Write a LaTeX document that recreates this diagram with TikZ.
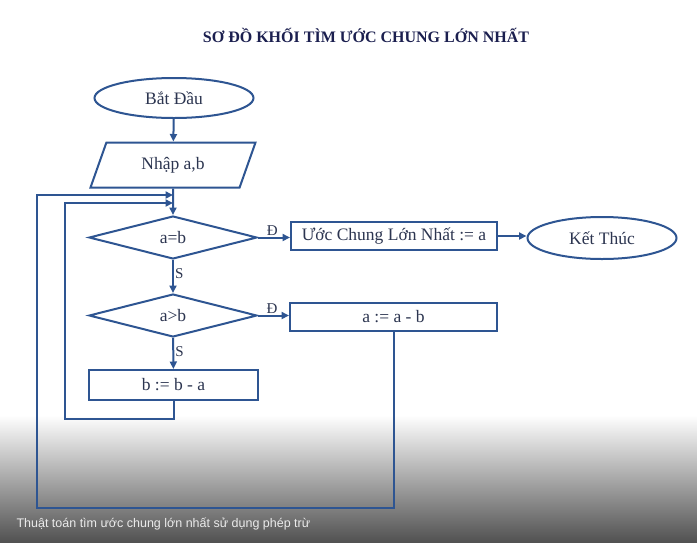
\documentclass[tikz,border=0pt]{standalone}
\usepackage{fontspec}
\setmainfont{Liberation Serif}
\newfontfamily\captionfont{Liberation Sans}
\usepackage{tikz}
\usetikzlibrary{arrows.meta,shapes,positioning,calc}
\definecolor{lineblue}{HTML}{2E5592}
\definecolor{textnavy}{HTML}{2C3550}
\definecolor{titlenavy}{HTML}{1B1F4F}

\begin{document}
\begin{tikzpicture}[
    x=1pt, y=-1pt,
    every node/.style={
        text=textnavy,
        font=\fontsize{17.5}{20}\selectfont
    },
    terminal/.style={
        ellipse,
        draw=lineblue,
        line width=2pt,
        minimum width=159pt,
        minimum height=40pt,
        inner sep=0pt
    },
    inout/.style={
        trapezium,
        trapezium left angle=45,
        trapezium right angle=135,
        trapezium stretches body=true,
        draw=lineblue,
        line width=2pt,
        minimum width=165pt,
        minimum height=45pt,
        inner sep=0pt
    },
    decide/.style={
        diamond,
        draw=lineblue,
        line width=2pt,
        minimum width=168pt,
        minimum height=43pt,
        inner sep=0pt
    },
    proc/.style={
        rectangle,
        draw=lineblue,
        line width=2pt,
        minimum height=28pt,
        inner sep=0pt
    },
    flow/.style={
        draw=lineblue,
        line width=2pt,
        -{Triangle[length=7.5pt,width=7pt]}
    },
    tag/.style={
        font=\fontsize{15}{17}\selectfont,
        inner sep=1pt
    }
]
% --- nền và khung ---
\fill[white] (0,0) rectangle (697,542);
\shade[top color=white, bottom color=black!68] (0,415) rectangle (697,542);
\useasboundingbox (0,0) rectangle (697,542);

% --- tiêu đề ---
\node[text=titlenavy, font=\fontsize{16}{19}\selectfont\bfseries] (title) at (366,35) {SƠ ĐỒ KHỐI TÌM ƯỚC CHUNG LỚN NHẤT};

% --- các khối ---
\node[terminal] (start) at (174,98) {Bắt Đầu};
\node[inout] (input) at (173,165) {Nhập a,b};
\node[decide] (eq) at (173,237.5) {a=b};
\node[proc, minimum width=206pt] (gcd) at (394,236) {Ước Chung Lớn Nhất := a};
\node[terminal, minimum width=149pt, minimum height=42pt] (stop) at (602,238) {Kết Thúc};
\node[decide] (gt) at (173,315.5) {a>b};
\node[proc, minimum width=207pt] (suba) at (393.5,317) {a := a - b};
\node[proc, minimum width=169pt, minimum height=30pt] (subb) at (173.5,385) {b := b - a};

% điểm nối vòng lặp
\coordinate (inA) at (173,195);
\coordinate (inB) at (173,203);
\coordinate (loopB) at (65,419);
\coordinate (loopA) at (37,508);

% --- các đường nối ---
\draw[flow] (start) -- (input);
\draw[flow] (input) -- (eq);
\draw[flow] (eq.east) -- node[tag, above, pos=0.45] {Đ} (gcd.west |- eq.east);
\draw[flow] (gcd.east) -- (stop.west |- gcd.east);
\draw[flow] (eq) -- node[tag, right, pos=0.4] {S} (gt);
\draw[flow] (gt.east) -- node[tag, above, pos=0.45] {Đ} (suba.west |- gt.east);
\draw[flow] (gt) -- node[tag, right, pos=0.45] {S} (subb);
% quay lại sau b := b - a
\draw[flow] (subb.south) |- (loopB) |- (inB);
% quay lại sau a := a - b
\draw[flow] (suba.south) |- (loopA) |- (inA);

% --- chú thích ---
\node[anchor=west, text=white!92!black, font=\captionfont\fontsize{12.5}{15}\selectfont] (caption) at (13,524) {Thuật toán tìm ước chung lớn nhất sử dụng phép trừ};
\end{tikzpicture}
\end{document}
